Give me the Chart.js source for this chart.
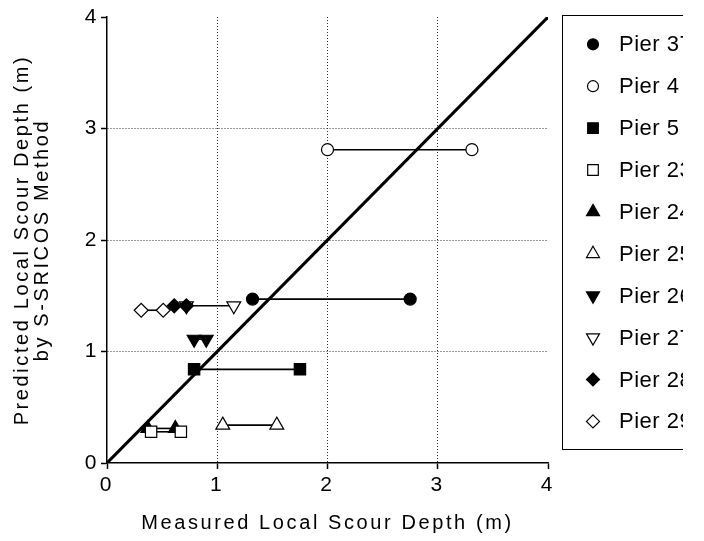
<!DOCTYPE html>
<html>
<head>
<meta charset="utf-8">
<script src="https://cdn.jsdelivr.net/npm/chart.js@4"></script>
<style>
  html, body { margin: 0; padding: 0; background: #fff; overflow: hidden; }
  #wrap { width: 704px; height: 541px; }
</style>
</head>
<body>
<div id="wrap"><canvas id="scour" width="704" height="541"></canvas></div>
<script>
// measured range (low / high) vs predicted depth for each pier, metres
var pierLabels = ['Pier 37', 'Pier 4', 'Pier 5', 'Pier 23', 'Pier 24', 'Pier 25', 'Pier 26', 'Pier 27', 'Pier 28', 'Pier 29'];
var measuredLow = [1.32, 2.0, 0.79, 0.40, 0.37, 1.05, 0.79, 0.72, 0.61, 0.31];
var measuredHigh = [2.75, 3.31, 1.75, 0.67, 0.62, 1.54, 0.90, 1.15, 0.72, 0.51];
var predicted = [1.47, 2.81, 0.84, 0.28, 0.31, 0.34, 1.11, 1.41, 1.41, 1.37];
var axisTicks = [0, 1, 2, 3, 4];

var FONT = 'Arial, "Liberation Sans", sans-serif';

// marker look per pier
var markerStyle = ['circle', 'circle', 'rect', 'rect', 'triangle', 'triangle', 'triangle', 'triangle', 'rectRot', 'rectRot'];
var markerFill = ['#000', '#fff', '#000', '#fff', '#000', '#fff', '#000', '#fff', '#000', '#fff'];
var markerRot = [0, 0, 0, 0, 0, 0, 180, 180, 0, 0];
var markerSize = [6, 6, 8, 8, 8, 8, 8, 8, 7, 7];

var datasets = [];
for (var i = 0; i < pierLabels.length; i++) {
  datasets.push({
    label: pierLabels[i],
    data: [{x: measuredLow[i], y: predicted[i]}, {x: measuredHigh[i], y: predicted[i]}],
    showLine: true,
    borderColor: '#000',
    borderWidth: 1.6,
    pointStyle: markerStyle[i],
    pointRotation: markerRot[i],
    pointRadius: markerSize[i],
    pointHoverRadius: markerSize[i],
    pointBackgroundColor: markerFill[i],
    pointBorderColor: '#000',
    pointBorderWidth: 1.2,
    order: i == 7 ? 10 : i
  });
}
// 1:1 line
datasets.push({
  label: 'equality',
  data: [{x: 0, y: 0}, {x: 4, y: 4}],
  showLine: true,
  borderColor: '#000',
  borderWidth: 3,
  pointRadius: 0,
  order: 11
});

function marker(ctx, style, x, y, r, rot, fill) {
  ctx.save();
  ctx.translate(x, y);
  ctx.rotate(rot * Math.PI / 180);
  ctx.beginPath();
  if (style == 'circle') {
    ctx.arc(0, 0, r, 0, Math.PI * 2);
  } else if (style == 'rect') {
    var s = r * Math.SQRT1_2;
    ctx.rect(-s, -s, 2 * s, 2 * s);
  } else if (style == 'triangle') {
    for (var k = 0; k < 3; k++) {
      var a = k * 2 * Math.PI / 3;
      var px = Math.sin(a) * r, py = -Math.cos(a) * r;
      if (k == 0) ctx.moveTo(px, py); else ctx.lineTo(px, py);
    }
    ctx.closePath();
  } else {
    ctx.moveTo(0, -r); ctx.lineTo(r, 0); ctx.lineTo(0, r); ctx.lineTo(-r, 0);
    ctx.closePath();
  }
  ctx.fillStyle = fill;
  ctx.fill();
  ctx.lineWidth = 1.2;
  ctx.strokeStyle = '#000';
  ctx.stroke();
  ctx.restore();
}

// the source figure's titles are set wide
var spacing = {
  id: 'spacing',
  beforeDraw: function(chart) { chart.ctx.letterSpacing = '2.6px'; }
};

// legend box, cut off on the right like the original
var sideLegend = {
  id: 'sideLegend',
  afterDraw: function(chart) {
    var ctx = chart.ctx;
    ctx.save();
    ctx.beginPath();
    ctx.rect(0, 0, 683, 541);
    ctx.clip();
    ctx.strokeStyle = '#000';
    ctx.lineWidth = 1;
    ctx.strokeRect(562.5, 15.5, 200, 434);
    ctx.letterSpacing = '0.5px';
    ctx.font = '22px ' + FONT;
    ctx.fillStyle = '#000';
    ctx.textBaseline = 'middle';
    for (var i = 0; i < pierLabels.length; i++) {
      var y = 44.3 + i * 41.9;
      marker(ctx, markerStyle[i], 593, y, markerSize[i] - 0.5, markerRot[i], markerFill[i]);
      ctx.fillText(pierLabels[i], 619, y + 1);
    }
    ctx.restore();
  }
};

function gridColour(c) {
  var v = c.tick ? c.tick.value : 0;
  return (v == 0 || v == 4) ? 'rgba(0,0,0,0)' : '#333';
}

var scour = new Chart(document.getElementById('scour').getContext('2d'), {
  type: 'scatter',
  data: { datasets: datasets },
  options: {
    responsive: false,
    animation: false,
    events: [],
    layout: { padding: { top: 17, right: 156, left: 0, bottom: 0 } },
    plugins: { legend: { display: false }, tooltip: { enabled: false } },
    scales: {
      x: {
        min: 0, max: 4,
        afterFit: function(s) { s.height = 78; },
        afterBuildTicks: function(s) { s.ticks = axisTicks.map(function(v) { return {value: v}; }); },
        ticks: { color: '#000', font: { family: FONT, size: 21 }, padding: 4, maxRotation: 0 },
        grid: { color: gridColour, tickColor: '#000', tickLength: 6, lineWidth: 1, tickWidth: 1.5 },
        border: { display: true, color: '#000', width: 1.5, dash: [1, 2] },
        title: { display: true, text: 'Measured Local Scour Depth (m)', color: '#000',
                 font: { family: FONT, size: 20, lineHeight: 1.0 }, padding: { top: 0, bottom: 8 } }
      },
      y: {
        min: 0, max: 4,
        afterFit: function(s) { s.width = 107; },
        afterBuildTicks: function(s) { s.ticks = axisTicks.map(function(v) { return {value: v}; }); },
        ticks: { color: '#000', font: { family: FONT, size: 21 }, padding: 2 },
        grid: { color: gridColour, tickColor: '#000', tickLength: 6, lineWidth: 1, tickWidth: 1.5 },
        border: { display: true, color: '#000', width: 1.5, dash: [1, 2] },
        title: { display: true, text: ['Predicted Local Scour Depth (m)', 'by S-SRICOS Method'], color: '#000',
                 font: { family: FONT, size: 20, lineHeight: 1.0 }, padding: { top: 12, bottom: 0 } }
      }
    }
  },
  plugins: [spacing, sideLegend]
});
</script>
</body>
</html>
